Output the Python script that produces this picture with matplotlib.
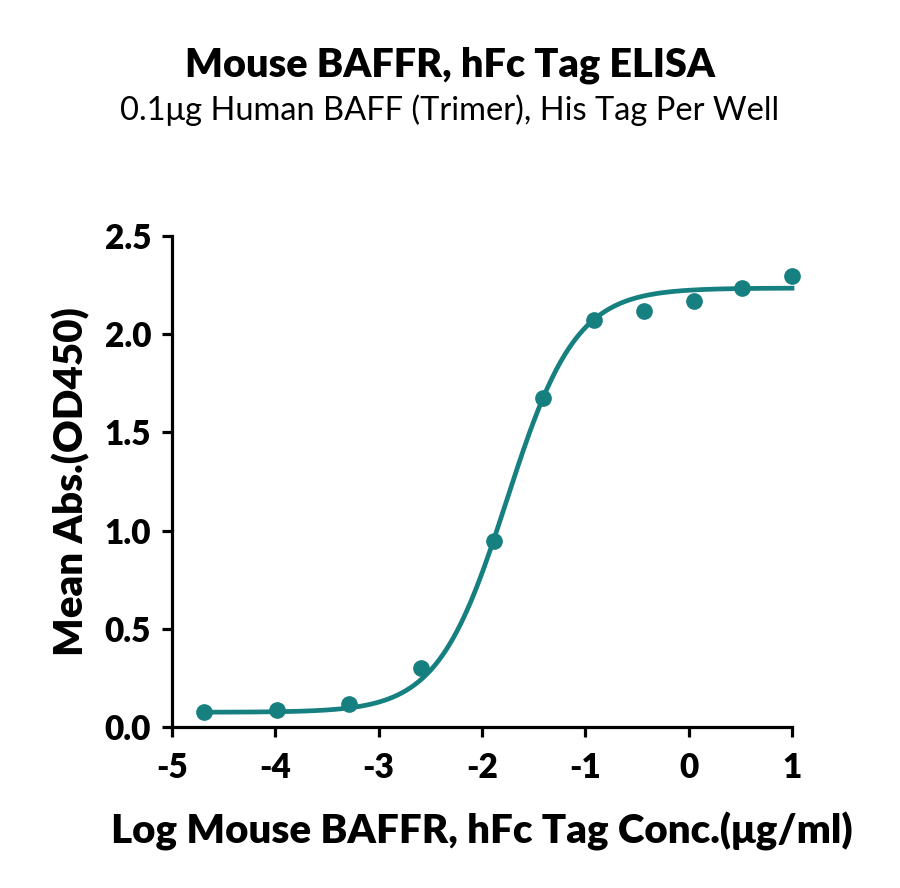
import matplotlib
matplotlib.use("Agg")
import matplotlib.pyplot as plt
import numpy as np

# ── Dados ─────────────────────────────────────────────────────────────────────
log_conc = [-4.69, -3.98, -3.29, -2.59, -1.88, -1.41, -0.915, -0.43, 0.05, 0.52, 1.0]
mean_abs = [0.076, 0.085, 0.115, 0.30, 0.947, 1.675, 2.07, 2.12, 2.17, 2.235, 2.295]

# parâmetros do ajuste 4PL (estimados da curva)
fit_bottom = 0.075
fit_top = 2.235
fit_logec50 = -1.76
fit_hill = 1.3

x_ticks = [-5, -4, -3, -2, -1, 0, 1]
y_ticks = [0.0, 0.5, 1.0, 1.5, 2.0, 2.5]

TITULO = "Mouse BAFFR, hFc Tag ELISA"
SUBTITULO = "0.1μg Human BAFF (Trimer), His Tag Per Well"
XLABEL = "Log Mouse BAFFR, hFc Tag Conc.(μg/ml)"
YLABEL = "Mean Abs.(OD450)"

COR = "#167f80"
FONTE = ["Lato", "DejaVu Sans"]

plt.rcParams["font.family"] = FONTE


def curva_4pl(x):
    return fit_bottom + (fit_top - fit_bottom) / (1 + 10 ** ((fit_logec50 - x) * fit_hill))


fig = plt.figure(figsize=(9, 8.88), dpi=100)
ax = fig.add_axes([0.191, 0.1813, 0.689, 0.5529])

xs = np.linspace(min(log_conc), max(log_conc), 400)
ax.plot(xs, curva_4pl(xs), color=COR, linewidth=3.4, clip_on=False, zorder=2)
ax.plot(log_conc, mean_abs, "o", color=COR, markersize=11, clip_on=False, zorder=3)

ax.set_xlim(-5, 1)
ax.set_ylim(0, 2.5)
ax.set_xticks(x_ticks)
ax.set_xticklabels([str(t) for t in x_ticks])
ax.set_yticks(y_ticks)
ax.set_yticklabels([f"{t:.1f}" for t in y_ticks])

for lado in ("top", "right"):
    ax.spines[lado].set_visible(False)
for lado in ("left", "bottom"):
    ax.spines[lado].set_linewidth(2.3)
ax.tick_params(width=2.3, length=7, labelsize=24)
ax.tick_params(axis="x", pad=11)
ax.tick_params(axis="y", pad=8)
for lbl in ax.get_xticklabels() + ax.get_yticklabels():
    lbl.set_fontweight("heavy")

ax.set_xlabel(XLABEL, fontsize=29, fontweight="heavy", labelpad=20)
ax.set_ylabel(YLABEL, fontsize=29, fontweight="heavy", labelpad=10)

fig.text(0.5, 1 - 65 / 888, TITULO, ha="center", va="center",
         fontsize=28.5, fontweight="heavy")
fig.text(0.5, 1 - 110 / 888, SUBTITULO, ha="center", va="center",
         fontsize=23.5)

plt.savefig("out.png", dpi=100)
plt.close()
